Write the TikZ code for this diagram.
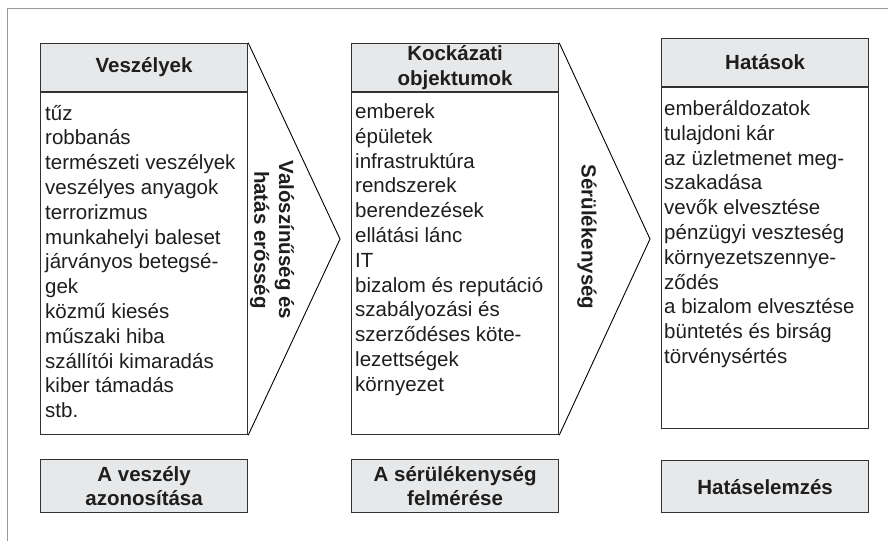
\documentclass[tikz,border=0pt]{standalone}
\usepackage{fontspec}
\setmainfont{Liberation Sans}
\definecolor{hdrgray}{RGB}{231,232,233}
\definecolor{ln}{RGB}{50,50,50}
\definecolor{txt}{RGB}{30,30,30}
\newcommand\Ln[1]{\hbox{#1}}
\begin{document}
\begin{tikzpicture}[x=1pt,y=-1pt,
  boxline/.style={draw=ln, line width=1.2pt},
  hdr/.style={boxline, fill=hdrgray, inner sep=0, minimum width=207pt, font=\bfseries\fontsize{20.5}{24.8}\selectfont, text=txt, align=center},
  bodybox/.style={boxline, fill=white, inner sep=0, minimum width=207pt},
  bodytext/.style={anchor=base west, inner sep=0, font=\fontsize{20.5}{24.8}\selectfont, text=txt},
  arrowline/.style={draw=black, line width=0.9pt, line join=miter},
  vlabel/.style={rotate=-90, inner sep=0, font=\bfseries\fontsize{20.5}{24.8}\selectfont, align=center, text=txt},
]
\useasboundingbox (0,0) rectangle (888,541);
\draw[gray!80, line width=1pt] (7,541) -- (7,8.5) -- (888,8.5);

% column 1
\node[bodybox, minimum height=342pt, anchor=north west] (b1) at (40,92) {};
\node[hdr, minimum height=48pt, anchor=south west] (h1) at (40,92) {Veszélyek};
\coordinate (t1) at (340,239);
\draw[arrowline] (h1.north east) -- (t1) -- (b1.south east);
\node[bodytext] (l1) at (45,120) {\vtop{\Ln{tűz}\Ln{robbanás}\Ln{természeti veszélyek}\Ln{veszélyes anyagok}\Ln{terrorizmus}\Ln{munkahelyi baleset}\Ln{járványos betegsé-}\Ln{gek}\Ln{közmű kiesés}\Ln{műszaki hiba}\Ln{szállítói kimaradás}\Ln{kiber támadás}\Ln{stb.}}};
\node[vlabel] (v1) at (272,240) {Valószínűség és\\hatás erősség};
\node[hdr, minimum height=53pt, anchor=north west] (f1) at (40,459) {A veszély\\azonosítása};

% column 2
\node[bodybox, minimum height=342pt, anchor=north west] (b2) at (351,92) {};
\node[hdr, minimum height=48pt, anchor=south west] (h2) at (351,92) {Kockázati\\objektumok};
\coordinate (t2) at (650,239);
\draw[arrowline] (h2.north east) -- (t2) -- (b2.south east);
\node[bodytext] (l2) at (355,118.5) {\vtop{\Ln{emberek}\Ln{épületek}\Ln{infrastruktúra}\Ln{rendszerek}\Ln{berendezések}\Ln{ellátási lánc}\Ln{IT}\Ln{bizalom és reputáció}\Ln{szabályozási és}\Ln{szerződéses köte-}\Ln{lezettségek}\Ln{környezet}}};
\node[vlabel] (v2) at (587,237) {Sérülékenység};
\node[hdr, minimum height=53pt, anchor=north west] (f2) at (351,459) {A sérülékenység\\felmérése};

% column 3
\node[bodybox, minimum height=341pt, anchor=north west] (b3) at (661,87) {};
\node[hdr, minimum height=48pt, anchor=south west] (h3) at (661,87) {Hatások};
\node[bodytext] (l3) at (664,115.5) {\vtop{\Ln{emberáldozatok}\Ln{tulajdoni kár}\Ln{az üzletmenet meg-}\Ln{szakadása}\Ln{vevők elvesztése}\Ln{pénzügyi veszteség}\Ln{környezetszennye-}\Ln{ződés}\Ln{a bizalom elvesztése}\Ln{büntetés és birság}\Ln{törvénysértés}}};
\node[hdr, minimum height=52pt, anchor=north west] (f3) at (661,460) {Hatáselemzés};
\end{tikzpicture}
\end{document}
